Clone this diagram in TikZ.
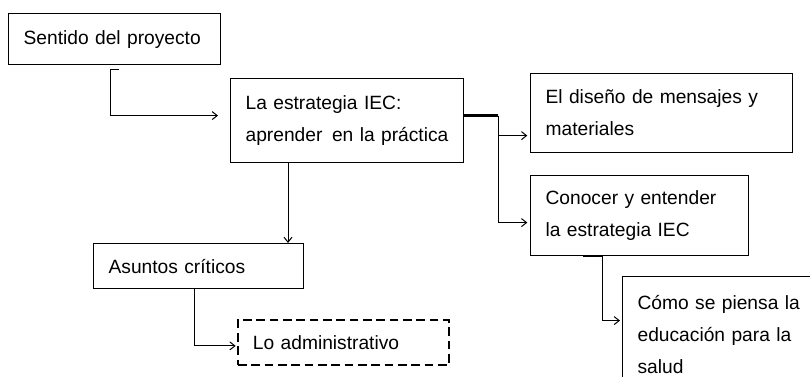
\documentclass[tikz,border=0pt]{standalone}
\usepackage{fontspec}
\setmainfont{Liberation Sans}
\usetikzlibrary{arrows.meta}
\hyphenpenalty=10000
\tikzset{
  box/.style 2 args={draw, line width=0.9pt, rectangle, anchor=north west, inner xsep=11.25pt, inner ysep=0pt, text width=#1, minimum height=#2, align=left, font=\fontsize{14.4}{24}\selectfont},
  link/.style={line width=0.75pt, -{Straight Barb[length=3.8pt,width=6pt]}},
  fork/.style={line width=1.8pt}
}
\begin{document}
\begin{tikzpicture}[x=0.75pt,y=-0.75pt]
\useasboundingbox (0,0) rectangle (810,377);
\clip (0,0) rectangle (810,377);
% boxes
\node[box={136.5pt}{38.25pt}] (sent) at (8,13) {Sentido del proyecto};
\node[box={152.25pt}{63pt}] (estr) at (230,78) {La estrategia IEC:\\aprender\, en la práctica};
\node[box={174pt}{59.25pt}] (dis) at (530,73) {El diseño de mensajes y\\materiales};
\node[box={141pt}{60pt}] (conoc) at (530,175) {Conocer y entender\\la estrategia IEC};
\node[box={133.5pt}{87pt}] (como) at (622,276) {Cómo se piensa la\\educación para la\\salud};
\node[box={135pt}{33.75pt}] (asun) at (93,243) {Asuntos críticos};
\node[box={135.75pt}{33.75pt}, dashed, dash pattern=on 6.5pt off 3.5pt, line width=1.4pt] (admin) at (237,319) {Lo administrativo};
% connectors
\draw[link, shorten >=9pt] ([xshift=3pt,yshift=-3pt]sent.south) -- ++(-8,0) |- ([yshift=3.75pt]estr.west);
\draw[fork] ([yshift=3.75pt]estr.east) -- ++(34,0) coordinate (split);
\draw[link, shorten >=2pt] (split) |- ([yshift=-16.9pt]dis.west);
\draw[link, shorten >=2pt] (split) |- ([yshift=-5.25pt]conoc.west);
\coordinate (drop) at ([xshift=43.5pt]estr.south west);
\draw[link] (drop) -- (drop |- asun.north);
\draw[link, shorten >=1pt] ([xshift=-3pt]asun.south) |- ([yshift=-2.6pt]admin.west);
\coordinate (hang) at ([xshift=54pt]conoc.south west);
\draw[line width=1.5pt] ([xshift=39.75pt]conoc.south west) -- (hang);
\draw[link, shorten >=1.5pt] (hang) |- ([yshift=10.5pt]como.west);
\end{tikzpicture}
\end{document}
